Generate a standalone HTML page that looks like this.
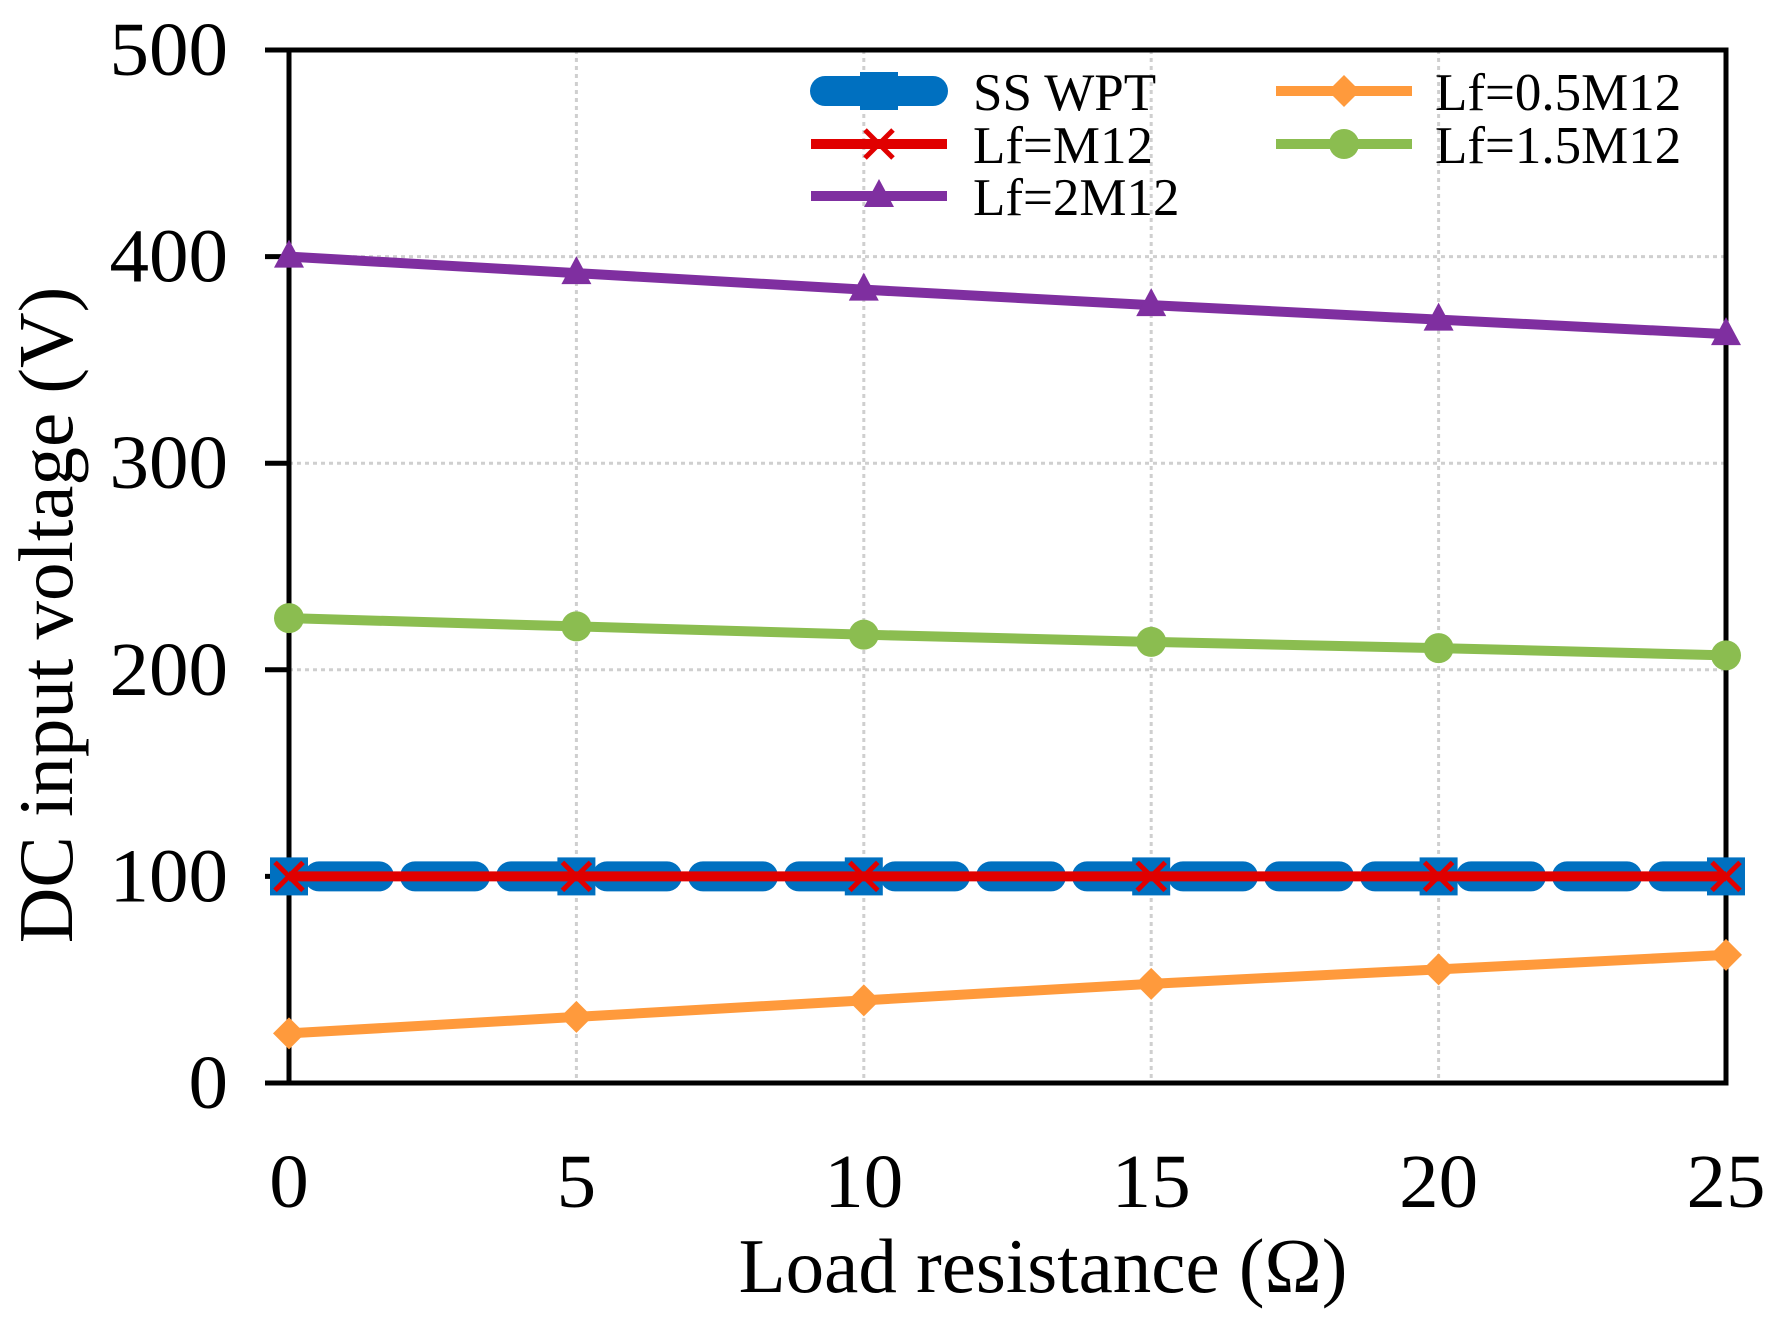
<!DOCTYPE html>
<html><head><meta charset="utf-8"><style>
html,body{margin:0;padding:0;background:#fff;}
svg{display:block;font-family:"Liberation Serif",serif;}
</style></head><body>
<svg id="chart" width="1773" height="1321" viewBox="0 0 1773 1321" xmlns="http://www.w3.org/2000/svg">
<g id="grid"></g><g id="axes"></g><g id="series"></g><g id="legend"></g>
</svg>
<script>
const categories=[0,5,10,15,20,25];
const ssWpt=[100,100,100,100,100,100];
const lfM=[100,100,100,100,100,100];
const lf05=[24,32,40,48,55,62];
const lf15=[225,221,217,213.5,210.5,207];
const lf2=[400,392,384,376.5,369.5,362.5];
const yTicks=[0,100,200,300,400,500];
const xTicks=[0,5,10,15,20,25];

const L=289,R=1726,T=50,B=1083;
const xs=v=>L+(v-0)/(25-0)*(R-L);
const ys=v=>B-(v/500)*(B-T);
const NS="http://www.w3.org/2000/svg";
function mk(tag,attrs,parent){const e=document.createElementNS(NS,tag);for(const k in attrs)e.setAttribute(k,attrs[k]);parent.appendChild(e);return e;}
const grid=document.getElementById('grid'),axes=document.getElementById('axes'),ser=document.getElementById('series'),leg=document.getElementById('legend');

yTicks.forEach(v=>{
  if(v>0&&v<500){const g=mk('line',{x1:L,x2:R,y1:ys(v),y2:ys(v),stroke:'#cfcfcf','stroke-width':3,'stroke-dasharray':'4 4'},grid);
  
  }
  const t=mk('line',{x1:L-24,x2:L,y1:ys(v),y2:ys(v),stroke:'#000','stroke-width':5},axes);
  
  
  const lb=mk('text',{x:228,y:ys(v)+25,'font-size':76,'text-anchor':'end',fill:'#000',transform:`translate(228 0) scale(1.04 1) translate(-228 0)`},axes);lb.textContent=v;
  
  
});
xTicks.forEach(v=>{
  if(v>0&&v<25){const g=mk('line',{x1:xs(v),x2:xs(v),y1:T,y2:B,stroke:'#cfcfcf','stroke-width':3,'stroke-dasharray':'4 4'},grid);
  
  }
  const lb=mk('text',{x:xs(v),y:1207,'font-size':76,'text-anchor':'middle',fill:'#000',transform:`translate(${xs(v)} 0) scale(1.04 1) translate(${-xs(v)} 0)`},axes);lb.textContent=v;
  
  
});
const frame=mk('path',{d:`M${L} ${T}H${R}V${B}H${L-24}M${L} ${T}V${B}M${L-24} ${T}H${L}`,fill:'none',stroke:'#000','stroke-width':5},axes);


const xt=mk('text',{x:1043,y:1292,'font-size':77,'text-anchor':'middle',fill:'#000'},axes);xt.textContent='Load resistance (Ω)';


const yt=mk('text',{x:0,y:0,'font-size':77,'text-anchor':'middle',fill:'#000',transform:'translate(72,615) rotate(-90)'},axes);yt.textContent='DC input voltage (V)';



function marker(type,x,y,color,p){
  let e;
  if(type==='square')e=mk('rect',{x:x-19,y:y-19,width:38,height:38,fill:color},p);
  else if(type==='diamond')e=mk('path',{d:`M${x} ${y-16}L${x+16} ${y}L${x} ${y+16}L${x-16} ${y}Z`,fill:color},p);
  else if(type==='circle')e=mk('circle',{cx:x,cy:y,r:15,fill:color},p);
  else if(type==='triangle')e=mk('path',{d:`M${x} ${y-17}L${x+15} ${y+11}L${x-15} ${y+11}Z`,fill:color},p);
  else if(type==='x')e=mk('path',{d:`M${x-14} ${y-14}L${x+14} ${y+14}M${x+14} ${y-14}L${x-14} ${y+14}`,stroke:color,'stroke-width':5,fill:'none'},p);
  return e;
}
const defs=[
 {name:'SS WPT',vals:ssWpt,color:'#0070c0',w:30,dash:'60 36',m:'square',key:'ss-wpt'},
 {name:'Lf=M12',vals:lfM,color:'#e00000',w:10,dash:null,m:'x',key:'lf-m12'},
 {name:'Lf=0.5M12',vals:lf05,color:'#ff9a3c',w:10,dash:null,m:'diamond',key:'lf-0.5m12'},
 {name:'Lf=1.5M12',vals:lf15,color:'#8bbd50',w:10,dash:null,m:'circle',key:'lf-1.5m12'},
 {name:'Lf=2M12',vals:lf2,color:'#7f2fa0',w:10,dash:null,m:'triangle',key:'lf-2m12'}
];
defs.forEach(s=>{
  const g=mk('g',{},ser);
  
  
  const pts=s.vals.map((v,i)=>xs(categories[i])+','+ys(v)).join(' ');
  const a={points:pts,fill:'none',stroke:s.color,'stroke-width':s.w,'stroke-linejoin':'round'};
  if(s.dash){a['stroke-dasharray']=s.dash;a['stroke-linecap']='round';a['stroke-dashoffset']=-30;}
  const pl=mk('polyline',a,g);
  
  
  s.vals.forEach((v,i)=>{const m=marker(s.m,xs(categories[i]),ys(v),s.color,g);
    
    });
});
const legPos=[[811,91,973],[811,144,973],[1276,91,1435],[1276,144,1435],[811,196,973]];
defs.forEach((s,i)=>{
  const [x0,y0,tx]=legPos[i];
  const g=mk('g',{},leg);
  
  
  mk('line',{x1:x0+(s.dash?14:0),x2:x0+136-(s.dash?14:0),y1:y0,y2:y0,stroke:s.color,'stroke-width':s.w,'stroke-linecap':s.dash?'round':'butt'},g);
  marker(s.m,x0+68,y0,s.color,g);
  const t=mk('text',{x:tx,y:y0+19,'font-size':53,fill:'#000'},g);t.textContent=s.name;
});
</script>
</body></html>
